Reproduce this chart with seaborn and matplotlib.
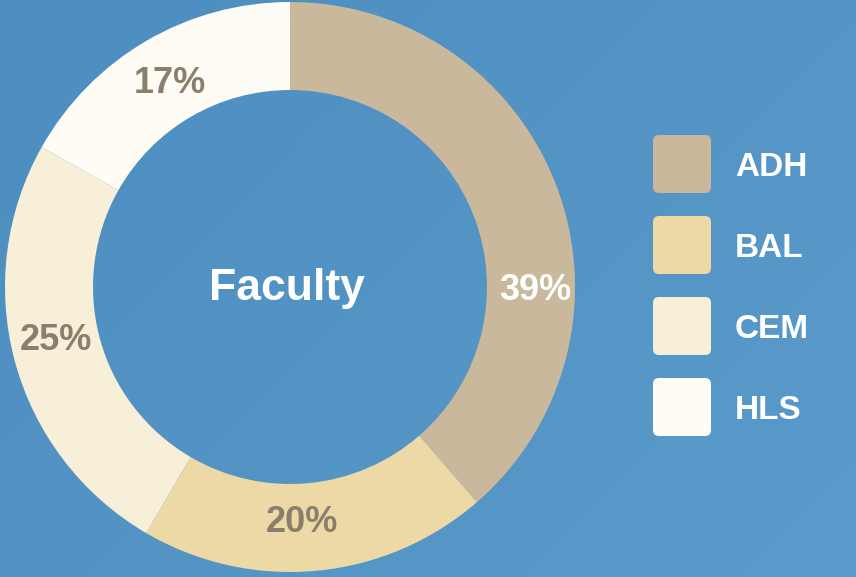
import matplotlib.pyplot as plt
import numpy as np
import seaborn as sns
from matplotlib.colors import LinearSegmentedColormap
from matplotlib.patches import FancyBboxPatch

faculties = ["ADH", "BAL", "CEM", "HLS"]
shares = [39, 20, 25, 17]
slice_colors = ["#c9b89c", "#ecd9a6", "#f7efd8", "#fffcf6"]
label_colors = ["white", "#8a7e6c", "#8a7e6c", "#8a7e6c"]
center_label = "Faculty"

sns.set_style("white")
plt.rcParams["font.family"] = ["Liberation Sans", "DejaVu Sans"]

W, H = 856, 577
fig = plt.figure(figsize=(W / 100, H / 100), dpi=100)

# background: soft blue gradient
bg_ax = fig.add_axes([0, 0, 1, 1])
bg_cmap = LinearSegmentedColormap.from_list("bg", ["#4d8ec0", "#5a9bcb"])
gx, gy = np.meshgrid(np.linspace(0, 1, 200), np.linspace(0, 1, 200))
bg_ax.imshow(0.6 * gx + 0.4 * gy, cmap=bg_cmap, aspect="auto",
             extent=[0, 1, 0, 1], origin="upper")
bg_ax.set_axis_off()

# donut
cx, cy, r_out, r_in = 290, 287, 285, 197
pie_ax = fig.add_axes([(cx - r_out) / W, (H - cy - r_out) / H,
                       2 * r_out / W, 2 * r_out / H])
wedges, _, autotexts = pie_ax.pie(
    shares,
    colors=slice_colors,
    startangle=90,
    counterclock=False,
    radius=1,
    autopct="%.0f%%",
    pctdistance=(r_out + r_in) / 2 / r_out,
    wedgeprops={"width": (r_out - r_in) / r_out, "linewidth": 0},
)
# the original places its labels off the wedge centres
label_angles = [90, 177, 258, 330]
label_radii = [0.86, 0.815, 0.84, 0.84]
for txt, col, ang, rad in zip(autotexts, label_colors, label_angles, label_radii):
    a = np.deg2rad(ang)
    txt.set_position((rad * np.sin(a), rad * np.cos(a)))
    txt.set_va("center_baseline")
    txt.set_color(col)
    txt.set_fontsize(26)
    txt.set_fontweight("bold")
pie_ax.text(-0.01, 0.01, center_label, ha="center", va="center_baseline",
            fontsize=32, fontweight="bold", color="white")
pie_ax.set_xlim(-1, 1)
pie_ax.set_ylim(-1, 1)
pie_ax.set_axis_off()

# legend with rounded swatches
leg_ax = fig.add_axes([0, 0, 1, 1])
leg_ax.set_xlim(0, W)
leg_ax.set_ylim(H, 0)
leg_ax.set_axis_off()
for i, (name, col) in enumerate(zip(faculties, slice_colors)):
    top = 135 + i * 81
    leg_ax.add_patch(FancyBboxPatch((653 + 6, top + 6), 58 - 12, 58 - 12,
                                    boxstyle="round,pad=6", fc=col, ec="none"))
    leg_ax.text(735, top + 41, name, ha="left", va="baseline",
                fontsize=24, fontweight="bold", color="white")

fig.savefig("out.png", dpi=100)
